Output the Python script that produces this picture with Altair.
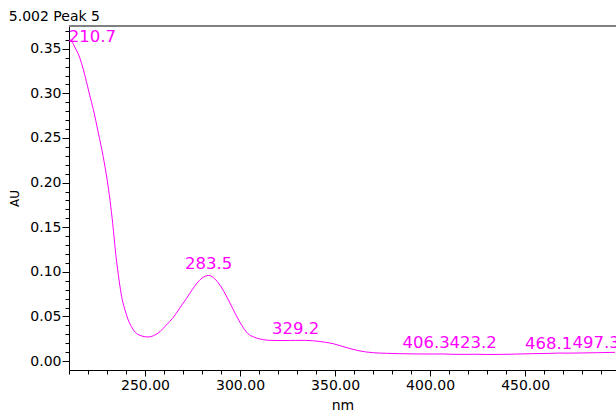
import altair as alt
import pandas as pd

# Spectrum (wavelength in nm, absorbance in AU)
wavelength = [210.0, 210.7, 213.0, 215.8, 217.5, 219.3, 221.0, 222.8, 225.4, 228.0,
              230.0, 231.6, 233.0, 234.7, 236.0, 236.8, 238.0, 239.5, 241.0, 243.0,
              245.0, 247.4, 249.5, 251.7, 254.5, 257.9, 261.0, 264.9, 268.0, 271.9,
              275.0, 277.2, 280.0, 283.5, 286.0, 288.6, 291.5, 294.7, 298.0, 300.9,
              304.0, 307.0, 310.0, 312.3, 316.0, 321.0, 326.0, 329.2, 334.0, 338.0,
              342.0, 345.0, 349.0, 353.0, 357.9, 362.0, 366.0, 370.0, 377.0, 384.0,
              392.0, 401.7, 406.3, 412.0, 419.0, 423.2, 430.0, 436.8, 445.0, 454.0,
              462.0, 468.1, 472.0, 480.0, 488.0, 497.3]
absorbance = [0.358, 0.360, 0.352, 0.339, 0.327, 0.312, 0.297, 0.282, 0.256, 0.229,
              0.204, 0.180, 0.154, 0.118, 0.096, 0.084, 0.069, 0.057, 0.047, 0.038,
              0.032, 0.0288, 0.0275, 0.0270, 0.0285, 0.0330, 0.0400, 0.0490, 0.0585, 0.0705,
              0.0805, 0.0870, 0.0930, 0.0960, 0.0935, 0.0875, 0.078, 0.065, 0.051, 0.040,
              0.031, 0.0272, 0.0250, 0.0240, 0.0232, 0.0230, 0.0231, 0.0232, 0.0232, 0.0228,
              0.0220, 0.0210, 0.0195, 0.0170, 0.0140, 0.0118, 0.0103, 0.0094, 0.0087, 0.0083,
              0.0080, 0.0079, 0.0080, 0.0076, 0.0075, 0.0077, 0.0074, 0.0075, 0.0078, 0.0083,
              0.0086, 0.0090, 0.0089, 0.0091, 0.0094, 0.0098]

# Peak labels
peak_nm = [210.7, 283.5, 329.2, 406.3, 423.2, 468.1, 497.3]
peak_au = [0.360, 0.096, 0.0232, 0.0080, 0.0077, 0.0090, 0.0098]
peak_text = ["210.7", "283.5", "329.2", "406.3", "423.2", "468.1", "497.3"]
label_dx = [22, 0, 0, -16, -1, -11, -19]
label_dy = [2, -6, -6, -6, -6, -4, -4]

x_ticks = list(range(210, 500, 10))
y_ticks = [round(i * 0.01, 2) for i in range(0, 38)]

FONT = "DejaVu Sans"
MAGENTA = "#FF00FF"

spec_df = pd.DataFrame({"nm": wavelength, "au": absorbance})
peak_df = pd.DataFrame({"nm": peak_nm, "au": peak_au, "label": peak_text})

xscale = alt.Scale(domain=[210, 497.8], nice=False, zero=False)
yscale = alt.Scale(domain=[-0.01, 0.3755], nice=False, zero=False)

xaxis = alt.Axis(
    title="nm", values=x_ticks, tickCount=200,
    labelExpr="datum.value % 50 === 0 ? format(datum.value, '.2f') : ''",
    tickSize={"condition": {"test": "datum.value % 50 === 0", "value": 6}, "value": 4},
    grid=False, domainColor="black", tickColor="black", labelColor="black",
    labelFont=FONT, labelFontSize=14, labelPadding=2, labelFlush=False,
    titleFont=FONT, titleFontSize=14, titleFontWeight="normal", titleColor="black",
    titlePadding=6, labelOverlap=False,
)
yaxis = alt.Axis(
    title="AU", values=y_ticks, tickCount=200,
    labelExpr="round(datum.value * 100) % 5 === 0 ? format(datum.value, '.2f') : ''",
    tickSize={"condition": {"test": "round(datum.value * 100) % 5 === 0", "value": 7}, "value": 4},
    grid=False, domainColor="black", tickColor="black", labelColor="black",
    labelFont=FONT, labelFontSize=14, labelPadding=1, labelFlush=False,
    titleFont=FONT, titleFontSize=12, titleFontWeight="normal", titleColor="black",
    titlePadding=8, labelOverlap=False,
)

line = alt.Chart(spec_df).mark_line(color=MAGENTA, strokeWidth=1, interpolate="monotone", clip=True).encode(
    x=alt.X("nm:Q", scale=xscale, axis=xaxis),
    y=alt.Y("au:Q", scale=yscale, axis=yaxis),
)

top_rule = alt.Chart(spec_df).mark_rule(color="#808080", strokeWidth=2).encode(
    y=alt.value(0), x=alt.value(0), x2=alt.value(560)
)

layers = [line, top_rule]
for t, dx, dy in zip(peak_text, label_dx, label_dy):
    layers.append(
        alt.Chart(peak_df).transform_filter(alt.datum.label == t).mark_text(
            color=MAGENTA, font=FONT, fontSize=16.5, align="center", baseline="alphabetic",
            dx=dx, dy=dy,
        ).encode(x=alt.X("nm:Q", scale=xscale), y=alt.Y("au:Q", scale=yscale), text="label:N")
    )

chart = alt.layer(*layers).properties(
    width=547, height=344,
    title=alt.TitleParams("5.002 Peak 5", anchor="start", font=FONT, fontSize=14,
                          fontWeight="normal", color="black", offset=4, dy=15,
                          baseline="alphabetic"),
    padding={"left": 69, "top": 26, "right": 0, "bottom": 44},
    autosize="none",
).configure_view(stroke=None).configure(background="white")

chart.save("out.html", embed_options={"renderer": "svg", "actions": False})
